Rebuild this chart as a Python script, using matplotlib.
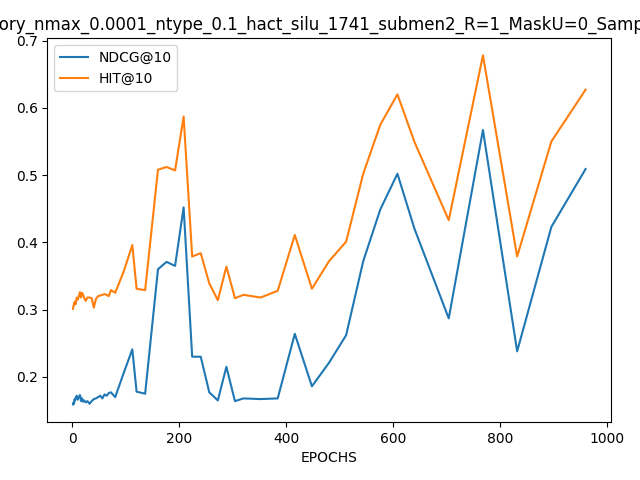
import matplotlib
matplotlib.use('Agg')

import matplotlib.pyplot as plt

epochs = [1, 2, 3, 4, 5, 6, 8, 10, 12, 14, 15, 16, 18, 20, 22, 25, 28, 32, 36, 40,
          44, 48, 52, 56, 60, 64, 68, 72, 80, 96, 112, 120, 136, 160, 176, 192,
          208, 224, 240, 256, 272, 288, 304, 320, 352, 384, 416, 448, 480, 512,
          544, 576, 608, 640, 704, 768, 832, 896, 960]

ndcg = [0.159, 0.162, 0.160, 0.167, 0.165, 0.169, 0.172, 0.166, 0.170, 0.173, 0.170,
        0.164, 0.168, 0.163, 0.165, 0.162, 0.164, 0.160, 0.164, 0.167, 0.168,
        0.170, 0.172, 0.168, 0.174, 0.172, 0.176, 0.177, 0.170, 0.206, 0.241,
        0.178, 0.175, 0.360, 0.371, 0.365, 0.452, 0.230, 0.230, 0.177, 0.165,
        0.215, 0.164, 0.168, 0.167, 0.168, 0.264, 0.186, 0.221, 0.262, 0.372,
        0.449, 0.502, 0.420, 0.287, 0.567, 0.238, 0.423, 0.509]

hit = [0.301, 0.305, 0.310, 0.308, 0.312, 0.308, 0.318, 0.315, 0.320, 0.326, 0.322,
       0.318, 0.325, 0.322, 0.317, 0.313, 0.318, 0.318, 0.317, 0.303, 0.316,
       0.320, 0.321, 0.322, 0.323, 0.322, 0.320, 0.329, 0.325, 0.357, 0.396,
       0.331, 0.329, 0.508, 0.512, 0.507, 0.587, 0.379, 0.384, 0.339, 0.314,
       0.364, 0.317, 0.322, 0.318, 0.328, 0.411, 0.331, 0.372, 0.401, 0.502,
       0.575, 0.620, 0.549, 0.433, 0.678, 0.379, 0.550, 0.627]

title = ('memory_nmax_0.0001_ntype_0.1_hact_silu_1741_submen2_R=1_MaskU=0_'
         'Sampler=10')

fig, ax = plt.subplots(figsize=(6.4, 4.8), dpi=100)
fig.subplots_adjust(left=0.074, right=0.955, bottom=0.121, top=0.921)
ax.plot(epochs, ndcg, label='NDCG@10')
ax.plot(epochs, hit, label='HIT@10')
ax.set_xlabel('EPOCHS')
ax.set_title(title)
ax.legend(loc='upper left')
fig.savefig('out.png')
plt.close(fig)
